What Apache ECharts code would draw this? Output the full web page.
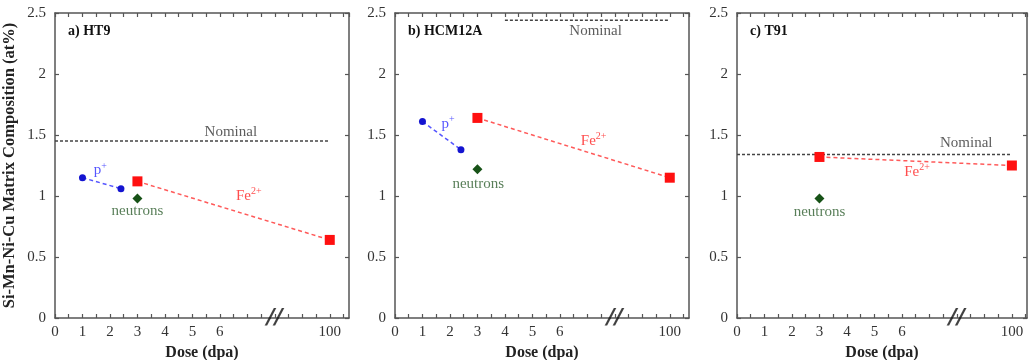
<!DOCTYPE html>
<html>
<head>
<meta charset="utf-8">
<title>Si-Mn-Ni-Cu matrix composition vs dose</title>
<script src="https://cdn.jsdelivr.net/npm/echarts@6/dist/echarts.min.js"></script>
<style>
  html, body { margin: 0; padding: 0; background: #fff; }
  #main { width: 1029px; height: 360px; }
</style>
</head>
<body>
<div id="main"></div>
<script type="text/javascript">
// dose tick labels (0..6 then the broken part ending at 100 dpa)
var doseTicks = [0, 1, 2, 3, 4, 5, 6, 100];
var BREAK_AT = 8;      // where the // sits on the axis
var POS_100 = 10;      // axis position used for 100 dpa

// a) HT9
var htProtonDose = [1, 2.4];
var htProtonComp = [1.15, 1.06];
var htFeDose = [3, 100];
var htFeComp = [1.12, 0.64];
var htNeutronDose = [3];
var htNeutronComp = [0.98];
var htNominal = 1.45;
var htNominalDose = [0, 100];

// b) HCM12A
var hcmProtonDose = [1, 2.4];
var hcmProtonComp = [1.61, 1.38];
var hcmFeDose = [3, 100];
var hcmFeComp = [1.64, 1.15];
var hcmNeutronDose = [3];
var hcmNeutronComp = [1.22];
var hcmNominal = 2.44;
var hcmNominalDose = [4, 100];

// c) T91
var t91ProtonDose = [];
var t91ProtonComp = [];
var t91FeDose = [3, 100];
var t91FeComp = [1.32, 1.25];
var t91NeutronDose = [3];
var t91NeutronComp = [0.98];
var t91Nominal = 1.34;
var t91NominalDose = [0, 100];

var FONT = 'Liberation Serif';

function pos(d) {
	return d === 100 ? POS_100 : d;
}
function pairs(xs, ys) {
	var res = [];
	for (var i = 0; i < xs.length; i++) {
		res.push([pos(xs[i]), ys[i]]);
	}
	return res;
}

var panels = [
	{
		title: 'a) HT9', left: 55, width: 294, xmax: 10.7,
		p: pairs(htProtonDose, htProtonComp),
		fe: pairs(htFeDose, htFeComp),
		n: pairs(htNeutronDose, htNeutronComp),
		nom: [[pos(htNominalDose[0]), htNominal], [pos(htNominalDose[1]), htNominal]],
		// label anchors [x, y] in data units
		notes: { nominal: [6.4, 1.52], p: [1.65, 1.21], fe: [7.05, 1.0], n: [3.0, 0.88] }
	},
	{
		title: 'b) HCM12A', left: 395, width: 294, xmax: 10.7,
		p: pairs(hcmProtonDose, hcmProtonComp),
		fe: pairs(hcmFeDose, hcmFeComp),
		n: pairs(hcmNeutronDose, hcmNeutronComp),
		nom: [[pos(hcmNominalDose[0]), hcmNominal], [pos(hcmNominalDose[1]), hcmNominal]],
		notes: { nominal: [7.3, 2.35], p: [1.93, 1.59], fe: [7.23, 1.45], n: [3.03, 1.1] }
	},
	{
		title: 'c) T91', left: 737, width: 290, xmax: 10.55,
		p: pairs(t91ProtonDose, t91ProtonComp),
		fe: pairs(t91FeDose, t91FeComp),
		n: pairs(t91NeutronDose, t91NeutronComp),
		nom: [[pos(t91NominalDose[0]), t91Nominal], [pos(t91NominalDose[1]), t91Nominal]],
		notes: { nominal: [8.34, 1.43], fe: [6.55, 1.2], n: [3.0, 0.87] }
	}
];

var axisLine = { show: true, onZero: false, lineStyle: { color: '#555', width: 1.5 } };
var tick = { inside: true, length: 4, lineStyle: { color: '#555', width: 1.2 } };

var grids = [], xAxes = [], yAxes = [], series = [], titles = [];

function noteSeries(k, xy, text, color, rich) {
	series.push({
		type: 'scatter', xAxisIndex: 2 * k, yAxisIndex: 2 * k,
		symbolSize: 0, silent: true, z: 5,
		data: [xy],
		label: {
			show: true, position: 'inside', formatter: text,
			fontFamily: FONT, fontSize: 15, color: color, rich: rich
		}
	});
}

panels.forEach(function (p, k) {
	grids.push({ left: p.left, width: p.width, top: 13, height: 305, outerBoundsMode: 'none' });
	titles.push({
		text: p.title, left: p.left + 8, top: 19,
		textStyle: { fontFamily: FONT, fontSize: 14, fontWeight: 'bold', color: '#111' }
	});

	xAxes.push({
		type: 'value', gridIndex: k, min: 0, max: p.xmax, interval: 0.5,
		position: 'bottom', splitLine: { show: false },
		axisLine: axisLine, axisTick: tick,
		axisLabel: {
			fontFamily: FONT, fontSize: 15, color: '#333', margin: 7,
			showMaxLabel: false,
			formatter: function (v) {
				if (v === POS_100) return String(doseTicks[doseTicks.length - 1]);
				if (v % 1 === 0 && doseTicks.indexOf(v) >= 0) return String(v);
				return '';
			}
		},
		name: 'Dose (dpa)', nameLocation: 'middle', nameGap: 19,
		nameTextStyle: { fontFamily: FONT, fontSize: 16, fontWeight: 'bold', color: '#222' }
	});
	xAxes.push({
		type: 'value', gridIndex: k, min: 0, max: p.xmax, interval: 0.5,
		position: 'top', splitLine: { show: false },
		axisLine: axisLine, axisTick: tick, axisLabel: { show: false }
	});

	var yLeft = {
		type: 'value', gridIndex: k, min: 0, max: 2.5, interval: 0.5,
		position: 'left', splitLine: { show: false },
		axisLine: axisLine, axisTick: tick,
		axisLabel: { fontFamily: FONT, fontSize: 15, color: '#333', margin: 9 }
	};
	if (k === 0) {
		yLeft.name = 'Si-Mn-Ni-Cu Matrix Composition (at%)';
		yLeft.nameLocation = 'middle';
		yLeft.nameGap = 37;
		yLeft.nameTextStyle = { fontFamily: FONT, fontSize: 16.5, fontWeight: 'bold', color: '#222' };
	}
	yAxes.push(yLeft);
	yAxes.push({
		type: 'value', gridIndex: k, min: 0, max: 2.5, interval: 0.5,
		position: 'right', splitLine: { show: false },
		axisLine: axisLine, axisTick: tick,
		axisLabel: { show: false }
	});

	var xi = 2 * k, yi = 2 * k;

	// nominal composition
	series.push({
		type: 'line', xAxisIndex: xi, yAxisIndex: yi, data: p.nom,
		symbol: 'none', silent: true,
		lineStyle: { color: '#444', width: 1.5, type: [3, 2] }
	});
	// p+ irradiation
	if (p.p.length) {
		series.push({
			type: 'line', xAxisIndex: xi, yAxisIndex: yi, data: p.p,
			symbol: 'circle', symbolSize: 7,
			itemStyle: { color: '#1414d0' },
			lineStyle: { color: '#5555ff', width: 1.5, type: [4, 3] }
		});
	}
	// Fe2+ irradiation
	series.push({
		type: 'line', xAxisIndex: xi, yAxisIndex: yi, data: p.fe,
		symbol: 'rect', symbolSize: 10,
		itemStyle: { color: '#ff1010' },
		lineStyle: { color: '#ff5a5a', width: 1.5, type: [4, 3] }
	});
	// neutrons
	series.push({
		type: 'scatter', xAxisIndex: xi, yAxisIndex: yi, data: p.n,
		symbol: 'diamond', symbolSize: 10,
		itemStyle: { color: '#175217', opacity: 1 }
	});
	// axis break mark
	series.push({
		type: 'scatter', xAxisIndex: xi, yAxisIndex: yi, data: [[BREAK_AT, 0]],
		symbolSize: 0, silent: true, clip: false, z: 6,
		label: {
			show: true, position: 'inside', formatter: '//',
			fontFamily: 'DejaVu Sans', fontSize: 22, fontWeight: 'bold',
			fontStyle: 'italic', color: '#111'
		}
	});

	var sup = function (c) {
		return {
			b: { fontFamily: FONT, fontSize: 15, color: c },
			s: { fontFamily: FONT, fontSize: 10, color: c, padding: [0, 0, 9, 0] }
		};
	};
	noteSeries(k, p.notes.nominal, 'Nominal', '#333');
	if (p.notes.p) noteSeries(k, p.notes.p, '{b|p}{s|+}', '#2a2aff', sup('#2a2aff'));
	noteSeries(k, p.notes.fe, '{b|Fe}{s|2+}', '#ff2020', sup('#ff2020'));
	noteSeries(k, p.notes.n, 'neutrons', '#2e5e2e');
});

var myChart = echarts.init(document.getElementById('main'), null, { renderer: 'canvas' });
myChart.setOption({
	backgroundColor: '#fff',
	animation: false,
	title: titles,
	grid: grids,
	xAxis: xAxes,
	yAxis: yAxes,
	series: series
});
</script>
</body>
</html>
